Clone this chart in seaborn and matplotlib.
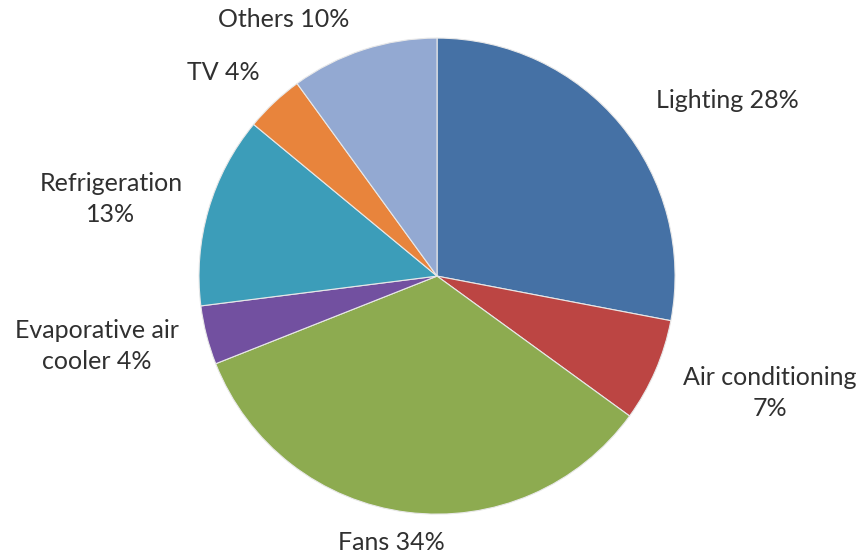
import matplotlib
matplotlib.use("Agg")
import matplotlib.pyplot as plt
import seaborn as sns

# energy use share by appliance, clockwise from top
categories = ["Lighting", "Air conditioning", "Fans", "Evaporative air cooler",
              "Refrigeration", "TV", "Others"]
shares = [28, 7, 34, 4, 13, 4, 10]
labels = ["Lighting 28%", "Air conditioning\n7%", "Fans 34%", "Evaporative air\ncooler 4%",
          "Refrigeration\n13%", "TV 4%", "Others 10%"]
colors = ["#4571A5", "#BC4543", "#8DAB50", "#7250A0", "#3C9DB9", "#E8843C", "#93A9D2"]

sns.set_theme(style="white")
plt.rcParams["font.family"] = ["Lato", "DejaVu Sans"]

fig = plt.figure(figsize=(8.65, 5.56), dpi=100)
ax = fig.add_axes([0, 0, 1, 1])

wedges, texts = ax.pie(shares, labels=labels, colors=sns.color_palette(colors),
                       startangle=90, counterclock=False,
                       wedgeprops=dict(edgecolor="#e8e8e8", linewidth=0.8),
                       textprops=dict(fontsize=18, color="#303030", ha="center", va="center",
                                      linespacing=1.45))

# label spots like the excel best-fit layout
label_pos = [(1.218, 0.739), (1.399, -0.492), (-0.193, -1.118), (-1.429, -0.294),
             (-1.370, 0.324), (-0.899, 0.857), (-0.643, 1.076)]
for t, p in zip(texts, label_pos):
    t.set_position(p)
    t.set_horizontalalignment("center")
    t.set_verticalalignment("center")

ax.set_aspect("auto")
ax.set_xlim(-1.836, 1.798)
ax.set_ylim(-1.176, 1.160)
ax.axis("off")

fig.savefig("out.png", dpi=100, facecolor="white")
